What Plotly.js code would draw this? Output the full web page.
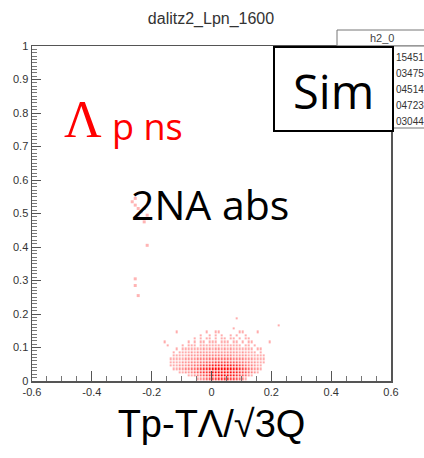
<!DOCTYPE html>
<html>
<head>
<meta charset="utf-8">
<script src="https://cdn.plot.ly/plotly-3.0.1.min.js"></script>
<style>html,body{margin:0;padding:0;background:#fff;}#chart{width:424px;height:458px;}</style>
</head>
<body>
<div id="chart"></div>
<script>
// ---- data (bin contents of the 2D histogram) ----
// x bins: centres from -0.155 in steps of 0.01 (40 bins); y bins: centres from 0.005 in steps of 0.01
const xBinStart = -0.155;
const yBinStart = 0.005;
const binWidth = 0.01;
const binContents = [
  [0,0,0,0,0,0,0,0,0,0,0,1,2,3,4,5,6,6,7,7,7,7,6,6,5,4,3,1,0,0,0,0,0,0,0,0,0,0,0,0],
  [0,0,0,0,0,0,0,0,1,1,2,3,4,5,6,7,8,8,9,9,9,9,8,8,7,6,5,4,2,1,0,0,0,0,0,0,0,0,0,0],
  [0,0,0,0,0,1,1,2,2,3,4,5,6,7,7,8,9,9,9,9,9,9,9,8,8,7,6,5,4,3,2,1,0,0,0,0,0,0,0,0],
  [0,0,0,1,1,2,2,3,3,4,4,5,6,7,7,8,9,9,9,9,9,9,9,8,8,7,6,5,4,3,2,2,1,0,0,0,0,0,0,0],
  [0,0,1,1,1,2,2,2,3,3,4,4,5,6,6,7,8,8,8,8,8,8,8,7,7,6,5,4,3,3,2,1,1,0,0,0,0,0,0,0],
  [0,0,1,1,1,1,2,2,2,3,3,3,4,4,5,5,5,6,6,6,6,6,5,5,5,4,4,3,3,2,2,1,1,1,0,0,0,0,0,0],
  [0,0,1,1,1,1,1,2,2,2,2,3,3,3,3,4,4,4,4,4,4,4,4,3,3,3,3,2,2,2,1,1,1,1,0,0,0,0,0,0],
  [0,0,0,1,1,1,1,1,2,2,2,2,2,3,3,3,3,3,3,3,3,3,3,2,2,2,2,2,1,1,1,1,1,1,0,0,0,0,0,0],
  [0,0,0,1,0,1,1,1,1,2,1,2,2,2,2,2,2,2,2,2,2,2,2,2,2,1,2,1,1,1,1,0,1,0,0,0,0,0,0,0],
  [0,0,0,0,1,0,1,1,1,1,1,1,1,2,1,2,1,2,2,1,2,1,2,1,1,1,1,1,1,1,0,1,1,0,0,0,0,0,0,0],
  [0,1,0,0,0,0,1,0,1,1,1,0,1,1,1,1,1,1,1,1,1,1,1,1,1,1,0,1,1,0,1,0,0,0,0,0,0,0,0,0],
  [1,0,0,0,0,0,0,0,1,0,1,0,1,1,0,1,1,1,0,1,1,1,0,1,1,0,1,0,1,1,0,0,0,0,0,1,0,0,0,0],
  [0,0,0,0,0,0,0,0,0,0,1,0,1,0,1,1,0,1,0,1,1,0,1,1,0,1,0,1,1,0,0,0,0,0,0,0,0,0,0,0],
  [0,0,0,0,0,0,0,0,0,0,0,0,1,0,0,1,0,1,0,1,0,0,1,0,1,0,0,1,0,0,0,0,0,0,0,0,0,0,0,0],
  [0,0,0,0,1,0,0,0,0,0,0,0,0,0,1,0,0,1,1,0,0,0,0,0,0,1,1,0,0,0,0,1,0,0,0,0,0,0,0,0],
  [0,0,0,0,0,0,0,0,0,0,0,0,0,0,0,0,0,0,0,0,0,0,0,1,0,0,0,0,0,0,0,0,0,0,0,0,0,0,0,0],
  [0,0,0,0,0,0,0,0,0,0,0,0,0,0,0,0,0,0,0,0,0,0,0,0,0,0,0,0,0,0,0,0,0,0,0,0,0,0,1,0],
  [0,0,0,0,0,0,0,0,0,0,0,0,0,0,0,0,0,0,0,0,0,0,0,0,0,0,0,0,0,0,0,0,0,0,0,0,0,0,0,0],
  [0,0,0,0,0,0,0,0,0,0,0,0,0,0,0,0,0,0,0,0,0,0,0,0,1,0,0,0,0,0,0,0,0,0,0,0,0,0,0,0]
];
// sparse entries far from the main cluster
const sparseX = [-0.265,-0.255,-0.245,-0.235,-0.225,-0.245,-0.235,-0.215,-0.255,-0.225,-0.215,-0.255,-0.255,-0.245];
const sparseY = [0.535,0.525,0.515,0.505,0.515,0.495,0.485,0.495,0.545,0.475,0.405,0.305,0.285,0.255];

const statsLabels = ["15451","03475","04514","04723","03044"];
const xTickVals = [-0.6,-0.4,-0.2,0,0.2,0.4,0.6];
const xTickText = ["-0.6","-0.4","-0.2","0","0.2","0.4","0.6"];
const yTickVals = [0,0.1,0.2,0.3,0.4,0.5,0.6,0.7,0.8,0.9,1];
const yTickText = ["0","0.1","0.2","0.3","0.4","0.5","0.6","0.7","0.8","0.9","1"];

// ---- layout helpers (pixel -> paper) ----
const L = 32, R = 391, T = 46, B = 381;
const px = p => (p - L) / (R - L);
const py = p => (B - p) / (B - T);

const zData = binContents.map(row => row.map(v => v === 0 ? null : v));

const sans = "Liberation Sans, Arial, sans-serif";
const office = "Open Sans, Noto Sans, sans-serif";

const traces = [
  {
    type: "heatmap",
    z: zData,
    x0: xBinStart, dx: binWidth,
    y0: yBinStart, dy: binWidth,
    xgap: 1, ygap: 1,
    zmin: 1, zmax: 9,
    colorscale: [[0,"#ffacac"],[0.3,"#ff7a7a"],[0.7,"#ff3838"],[1,"#ff0808"]],
    showscale: false,
    hoverinfo: "skip"
  },
  {
    type: "scatter",
    mode: "markers",
    x: sparseX, y: sparseY,
    marker: {symbol: "square", size: 3, color: "#ffb4b4"},
    hoverinfo: "skip"
  }
];

const annotations = [
  {text: "h2_0", x: px(382), y: py(38), xref: "paper", yref: "paper", showarrow: false,
   font: {family: sans, size: 11, color: "#444"}, xanchor: "center", yanchor: "middle"},
  {text: "Sim", x: px(333), y: py(91), xref: "paper", yref: "paper", showarrow: false,
   font: {family: office, size: 47, color: "#000"}, xanchor: "center", yanchor: "middle"},
  {text: "Λ", x: px(83), y: py(119), xref: "paper", yref: "paper", showarrow: false,
   font: {family: "Liberation Serif, DejaVu Serif, serif", size: 52, color: "#ff0000"}, xanchor: "center", yanchor: "middle"},
  {text: "p ns", x: px(110), y: py(126), xref: "paper", yref: "paper", showarrow: false,
   font: {family: office, size: 36, color: "#ff0000"}, xanchor: "left", yanchor: "middle"},
  {text: "2NA abs", x: px(210), y: py(204), xref: "paper", yref: "paper", showarrow: false,
   font: {family: office, size: 41, color: "#000"}, xanchor: "center", yanchor: "middle"}
];
statsLabels.forEach((s, i) => {
  annotations.push({text: s, x: px(394), y: py(57 + i * 16), xref: "paper", yref: "paper", showarrow: false,
    font: {family: sans, size: 10, color: "#333"}, xanchor: "left", yanchor: "middle"});
});

const shapes = [
  {type: "rect", xref: "paper", yref: "paper", x0: px(337), x1: px(440), y0: py(30), y1: py(46),
   line: {color: "#777", width: 1}, fillcolor: "#fff", layer: "above"},
  {type: "rect", xref: "paper", yref: "paper", x0: px(337), x1: px(440), y0: py(46), y1: py(128),
   line: {color: "#777", width: 1}, fillcolor: "#fff", layer: "above"},
  {type: "rect", xref: "paper", yref: "paper", x0: px(274), x1: px(393), y0: py(47), y1: py(131),
   line: {color: "#000", width: 2}, fillcolor: "#fff", layer: "above"}
];

const layout = {
  width: 424, height: 458,
  margin: {l: L, r: 424 - R, t: T, b: 458 - B, pad: 0},
  paper_bgcolor: "#fff", plot_bgcolor: "#fff",
  showlegend: false,
  title: {text: "dalitz2_Lpn_1600", x: 211 / 424, xanchor: "center", y: 1 - 18 / 458, yanchor: "middle",
          yref: "container", font: {family: sans, size: 16, color: "#333"}},
  xaxis: {
    range: [-0.6, 0.6], tickmode: "array", tickvals: xTickVals, ticktext: xTickText,
    ticks: "inside", ticklen: 10, tickcolor: "#555", tickwidth: 1,
    minor: {dtick: 0.05, tick0: 0, ticks: "inside", ticklen: 5, tickcolor: "#777", showgrid: false},
    showline: true, linecolor: "#555", linewidth: 1.5, mirror: true,
    showgrid: false, zeroline: false,
    tickfont: {family: sans, size: 11, color: "#333"},
    title: {text: "Tp-TΛ/√3Q", font: {family: sans, size: 38, color: "#000"}, standoff: 13}
  },
  yaxis: {
    range: [0, 1], tickmode: "array", tickvals: yTickVals, ticktext: yTickText,
    ticks: "inside", ticklen: 9, tickcolor: "#555", tickwidth: 1,
    minor: {dtick: 0.01, tick0: 0, ticks: "inside", ticklen: 5, tickcolor: "#777", showgrid: false},
    showline: true, linecolor: "#555", linewidth: 1.5, mirror: true,
    showgrid: false, zeroline: false,
    tickfont: {family: sans, size: 11, color: "#333"}
  },
  annotations: annotations,
  shapes: shapes
};

Plotly.newPlot("chart", traces, layout, {staticPlot: true, displayModeBar: false});
</script>
</body>
</html>
